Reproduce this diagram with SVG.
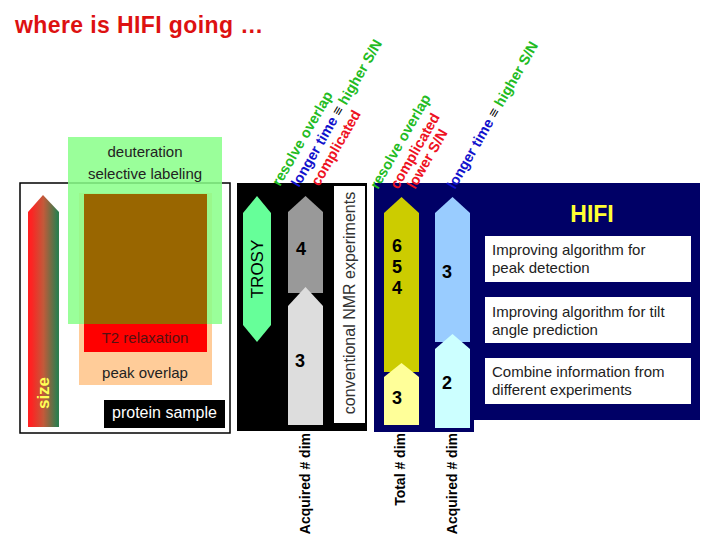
<svg xmlns="http://www.w3.org/2000/svg" width="720" height="540" viewBox="0 0 720 540">
<defs>
<linearGradient id="sizeGrad" x1="0" y1="0" x2="1" y2="0">
<stop offset="0.1" stop-color="#FF2222"/>
<stop offset="0.5" stop-color="#C25A3A"/>
<stop offset="0.95" stop-color="#2E7D4E"/>
</linearGradient>
<style>
text{font-family:"Liberation Sans",Arial,sans-serif}
.t15{font-size:15px;fill:#222}
.num{font-size:18px;font-weight:bold;fill:#000;text-anchor:middle}
.slant{font-size:14.5px;font-weight:bold}
.g{fill:#22BB22}
.b{fill:#1111CC}
.r{fill:#EE1122}
.k{fill:#000}
.dim{font-size:14px;font-weight:bold;fill:#000;text-anchor:end}
.box{fill:#fff}
</style>
</defs>
<rect width="720" height="540" fill="#fff"/>
<text x="15" y="33" font-size="23" font-weight="bold" letter-spacing="0.4" fill="#DD1111">where is HIFI going …</text>

<g id="protein-sample-panel">
<rect x="20" y="183" width="210" height="250" fill="#fff" stroke="#000" stroke-width="1.5"/>
<rect x="79" y="193" width="133" height="192" fill="#FFCC99"/>
<rect x="68" y="137" width="154" height="187" fill="#88FF88" fill-opacity="0.85"/>
<text x="145" y="157" class="t15" text-anchor="middle">deuteration</text>
<text x="145" y="179" class="t15" text-anchor="middle">selective labeling</text>
<rect x="84" y="194" width="123" height="130" fill="#996600"/>
<rect x="84" y="324" width="123" height="28" fill="#FF0000"/>
<text x="145" y="343" font-size="15" fill="#551111" text-anchor="middle">T2 relaxation</text>
<text x="145" y="378" class="t15" text-anchor="middle">peak overlap</text>
<rect x="104" y="400" width="121" height="28" fill="#000"/>
<text x="164.5" y="418" font-size="16" fill="#fff" text-anchor="middle">protein sample</text>
</g>

<g id="size-arrow">
<polygon points="28,212 43,195 59,212 59,427 28,427" fill="url(#sizeGrad)"/>
<text transform="translate(49,393) rotate(-90)" font-size="17" font-weight="bold" fill="#FFFF55" text-anchor="middle">size</text>
</g>

<g id="conventional-panel">
<rect x="237" y="183" width="130" height="248" fill="#000"/>
<rect x="334" y="186" width="31" height="237" fill="#fff"/>
<text transform="translate(355,303) rotate(-90)" font-size="16" fill="#333" text-anchor="middle">conventional NMR experiments</text>
</g>

<g id="trosy">
<polygon points="243,213 257,196 271,213 271,325 257,342 243,325" fill="#66FF99"/>
<text transform="translate(263,269) rotate(-90)" font-size="17" fill="#000" text-anchor="middle">TROSY</text>
</g>

<g id="conv-arrow-4">
<polygon points="288,212 305.5,196 323,212 323,293 288,293" fill="#999999"/>
<text x="301" y="255" class="num">4</text>
</g>
<g id="conv-arrow-3">
<polygon points="288,306 305.5,287 323,306 323,425 288,425" fill="#DDDDDD"/>
<text x="300" y="367" class="num">3</text>
</g>

<g id="hifi-panel">
<rect x="374" y="183" width="100" height="249" fill="#000066"/>
<rect x="374" y="183" width="326" height="237" fill="#000066"/>
<text x="592" y="222" font-size="23" font-weight="bold" fill="#FFFF33" text-anchor="middle">HIFI</text>
</g>

<g id="hifi-total-arrow">
<polygon points="384,213 401.5,197 419,213 419,372 384,372" fill="#CCCC00"/>
<text x="397" y="252" class="num">6</text>
<text x="397" y="273" class="num">5</text>
<text x="397" y="294" class="num">4</text>
</g>
<g id="hifi-total-arrow-3">
<polygon points="384,377 401.5,363 419,377 419,425 384,425" fill="#FFFF99"/>
<text x="397" y="404" class="num">3</text>
</g>
<g id="hifi-acq-arrow-3">
<polygon points="435,213 452.5,197 470,213 470,342 435,342" fill="#99CCFF"/>
<text x="447" y="278" class="num">3</text>
</g>
<g id="hifi-acq-arrow-2">
<polygon points="435,349 452.5,334 470,349 470,428 435,428" fill="#CCFFFF"/>
<text x="447" y="389" class="num">2</text>
</g>

<g id="box-peak">
<rect x="485" y="236" width="206" height="46" class="box"/>
<text x="492" y="255" class="t15">Improving algorithm for</text>
<text x="492" y="273" class="t15">peak detection</text>
</g>
<g id="box-tilt">
<rect x="485" y="297" width="206" height="46" class="box"/>
<text x="492" y="317" class="t15">Improving algorithm for tilt</text>
<text x="492" y="335" class="t15">angle prediction</text>
</g>
<g id="box-combine">
<rect x="485" y="358" width="206" height="46" class="box"/>
<text x="492" y="377" class="t15">Combine information from</text>
<text x="492" y="395" class="t15">different experiments</text>
</g>

<g id="slant-labels-conventional" class="slant">
<text transform="translate(280,187) rotate(-60)" class="g">resolve overlap</text>
<text transform="translate(299,188) rotate(-60)"><tspan class="b">longer time </tspan><tspan class="k">≡</tspan><tspan class="g"> higher S/N</tspan></text>
<text transform="translate(319,187) rotate(-60)" class="r">complicated</text>
</g>
<g id="slant-labels-hifi" class="slant">
<text transform="translate(378,190) rotate(-60)" class="g">resolve overlap</text>
<text transform="translate(398,190) rotate(-60)" class="r">complicated</text>
<text transform="translate(415,190) rotate(-60)" class="r">lower S/N</text>
<text transform="translate(455,190) rotate(-60)"><tspan class="b">longer time </tspan><tspan class="k">≡</tspan><tspan class="g"> higher S/N</tspan></text>
</g>

<g id="dim-labels">
<text transform="translate(310,433) rotate(-90)" class="dim">Acquired # dim</text>
<text transform="translate(405,433) rotate(-90)" class="dim">Total # dim</text>
<text transform="translate(457,433) rotate(-90)" class="dim">Acquired # dim</text>
</g>
</svg>
